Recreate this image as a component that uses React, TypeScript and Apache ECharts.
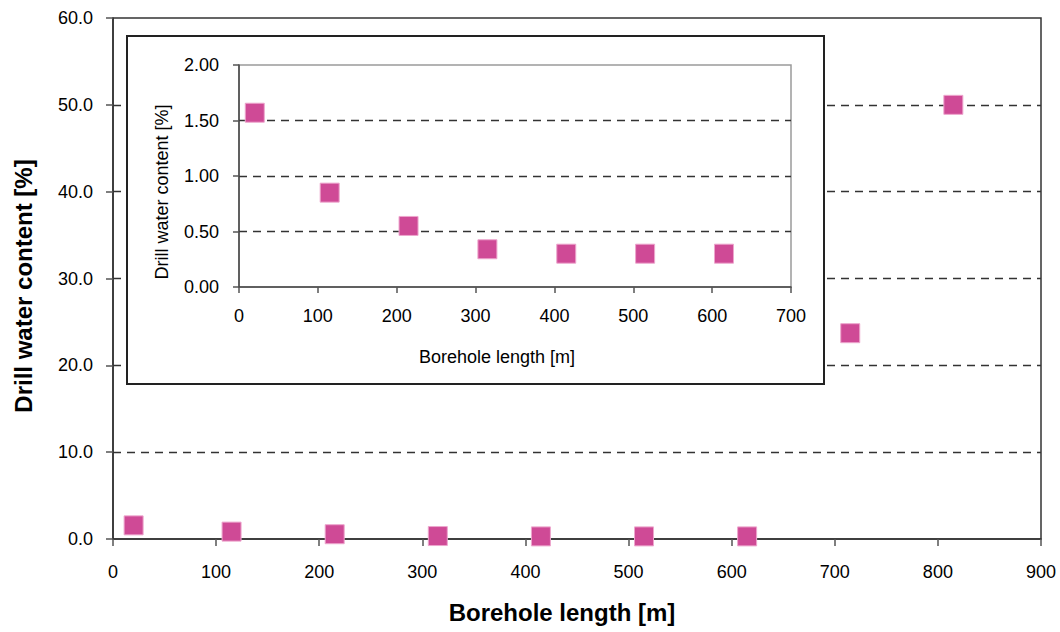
import React, { useEffect, useRef } from "react";
import * as echarts from "echarts";

const FONT = '"Liberation Sans", Arial, Helvetica, sans-serif';

// Data
const boreholeLength = [20, 115, 215, 315, 415, 515, 615, 715, 815];
const waterContent = [1.57, 0.85, 0.55, 0.34, 0.3, 0.3, 0.3, 23.7, 50.0];

// Axis ranges
const mainXRange = { min: 0, max: 900, interval: 100 };
const mainYRange = { min: 0, max: 60, interval: 10 };
const insetXRange = { min: 0, max: 700, interval: 100 };
const insetYRange = { min: 0, max: 2, interval: 0.5 };

const titles = {
  mainX: "Borehole length [m]",
  mainY: "Drill water content [%]",
  insetX: "Borehole length [m]",
  insetY: "Drill water content [%]",
};

const MARKER = "#CF4A96";
const MARKER_BORDER = "#EDA6CD";

export default function App() {
  const ref = useRef<HTMLDivElement>(null);

  useEffect(() => {
    if (!ref.current) return;
    const chart = echarts.init(ref.current, undefined, { renderer: "svg" });

    const mainData = boreholeLength.map((x, i) => [x, waterContent[i]]);
    const insetData = mainData.filter((d) => d[0] <= insetXRange.max && d[1] <= insetYRange.max);

    const tickStyle = { show: true, inside: false, length: 7, lineStyle: { color: "#555", width: 1.5 } };
    const labelStyle = { color: "#000", fontFamily: FONT, fontSize: 18 };
    const dashed = { color: "#333", width: 1.3, type: [8, 6] as any };

    const option: any = {
      animation: false,
      backgroundColor: "#fff",
      grid: [
        {
          left: 113, top: 18, width: 928, height: 521,
          show: true, borderColor: "#333", borderWidth: 1.5,
          backgroundColor: "transparent", containLabel: false, outerBoundsMode: "none", z: 0,
        },
        {
          left: 239, top: 65, width: 552, height: 222,
          show: true, borderColor: "#9a9a9a", borderWidth: 1.5,
          backgroundColor: "transparent", containLabel: false, outerBoundsMode: "none", z: 10,
        },
      ],
      xAxis: [
        {
          type: "value", gridIndex: 0, ...mainXRange, z: 0,
          axisLine: { show: true, onZero: false, lineStyle: { color: "#333", width: 1.5 } },
          axisTick: tickStyle,
          axisLabel: { ...labelStyle, margin: 24, showMinLabel: true, showMaxLabel: true },
          splitLine: { show: false },
        },
        {
          type: "value", gridIndex: 1, ...insetXRange, z: 10,
          axisLine: { show: true, onZero: false, lineStyle: { color: "#444", width: 1.5 } },
          axisTick: { ...tickStyle, length: 6 },
          axisLabel: { ...labelStyle, margin: 20, showMinLabel: true, showMaxLabel: true },
          splitLine: { show: false },
        },
      ],
      yAxis: [
        {
          type: "value", gridIndex: 0, ...mainYRange, z: 0,
          axisLine: { show: true, onZero: false, lineStyle: { color: "#333", width: 1.5 } },
          axisTick: tickStyle,
          axisLabel: { ...labelStyle, margin: 20, formatter: (v: number) => v.toFixed(1) },
          splitLine: { show: true, showMinLine: false, showMaxLine: false, lineStyle: dashed },
        },
        {
          type: "value", gridIndex: 1, ...insetYRange, z: 10,
          axisLine: { show: true, onZero: false, lineStyle: { color: "#444", width: 1.5 } },
          axisTick: { ...tickStyle, length: 6 },
          axisLabel: { ...labelStyle, margin: 20, formatter: (v: number) => v.toFixed(2) },
          splitLine: { show: true, showMinLine: false, showMaxLine: false, lineStyle: dashed },
        },
      ],
      series: [
        {
          type: "scatter", xAxisIndex: 0, yAxisIndex: 0, data: mainData,
          symbol: "rect", symbolSize: 19, z: 2,
          itemStyle: { color: MARKER, borderColor: MARKER_BORDER, borderWidth: 1, opacity: 1 },
        },
        {
          type: "scatter", xAxisIndex: 1, yAxisIndex: 1, data: insetData,
          symbol: "rect", symbolSize: 19, z: 12,
          itemStyle: { color: MARKER, borderColor: MARKER_BORDER, borderWidth: 1, opacity: 1 },
        },
      ],
      graphic: [
        {
          type: "rect", z: 5, silent: true,
          shape: { x: 127, y: 36, width: 697, height: 348 },
          style: { fill: "#fff", stroke: "#222", lineWidth: 2 },
        },
        {
          type: "text", z: 20, x: 562, y: 612,
          style: { text: titles.mainX, font: `bold 24px ${FONT}`, fill: "#000", textAlign: "center", textVerticalAlign: "middle" },
        },
        {
          type: "text", z: 20, x: 23, y: 286, rotation: Math.PI / 2,
          style: { text: titles.mainY, font: `bold 24px ${FONT}`, fill: "#000", textAlign: "center", textVerticalAlign: "middle" },
        },
        {
          type: "text", z: 20, x: 497, y: 357,
          style: { text: titles.insetX, font: `18px ${FONT}`, fill: "#000", textAlign: "center", textVerticalAlign: "middle" },
        },
        {
          type: "text", z: 20, x: 162, y: 192, rotation: Math.PI / 2,
          style: { text: titles.insetY, font: `18px ${FONT}`, fill: "#000", textAlign: "center", textVerticalAlign: "middle" },
        },
      ],
    };

    chart.setOption(option);
    return () => chart.dispose();
  }, []);

  return (
    <div
      ref={ref}
      style={{ position: "fixed", left: 0, top: 0, width: 1060, height: 632, background: "#fff" }}
    />
  );
}
